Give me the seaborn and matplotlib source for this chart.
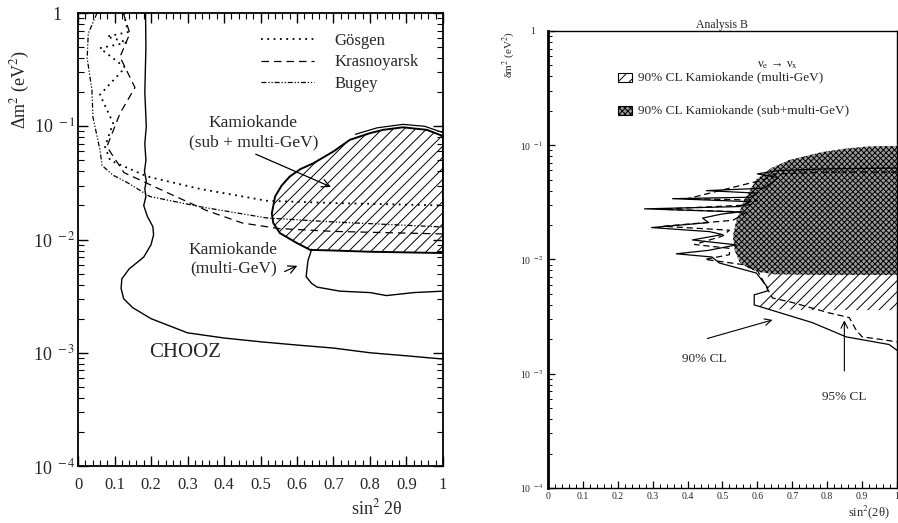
import matplotlib
matplotlib.use("Agg")
import matplotlib.pyplot as plt
import seaborn as sns
import numpy as np
from matplotlib.patches import Rectangle
from matplotlib.lines import Line2D
from matplotlib.ticker import FixedLocator, LogLocator, NullFormatter, MultipleLocator

# ---- left panel data: CHOOZ exclusion and other reactor limits ----
chooz_x = [0.185, 0.186, 0.183, 0.187, 0.183, 0.186, 0.182, 0.187, 0.183, 0.186, 0.180,
           0.190, 0.205, 0.207, 0.200, 0.180, 0.140, 0.120, 0.118, 0.125, 0.150, 0.200,
           0.300, 0.400, 0.500, 0.600, 0.700, 0.800, 0.900, 1.000]
chooz_y = [1.0, 0.5, 0.2, 0.1, 0.07, 0.05, 0.04, 0.033, 0.028, 0.024, 0.020,
           0.016, 0.013, 0.011, 0.009, 0.007, 0.0055, 0.0045, 0.0037, 0.0030, 0.0025, 0.0020,
           0.0015, 0.00135, 0.00125, 0.00117, 0.0011, 0.00100, 0.00094, 0.00088]

gosgen_x = [0.125, 0.137, 0.079, 0.135, 0.060, 0.129, 0.060, 0.096, 0.074, 0.088,
            0.190, 0.334, 0.517, 0.700, 1.000]
gosgen_y = [1.0, 0.68, 0.62, 0.55, 0.49, 0.33, 0.19, 0.107, 0.066, 0.050,
            0.036, 0.028, 0.022, 0.021, 0.020]

krasnoyarsk_x = [0.124, 0.142, 0.115, 0.156, 0.115, 0.079, 0.126, 0.244, 0.353, 0.450,
                 0.550, 0.700, 1.000]
krasnoyarsk_y = [1.0, 0.66, 0.41, 0.22, 0.13, 0.066, 0.039, 0.026, 0.018, 0.014,
                 0.0125, 0.0118, 0.0112]

bugey_x = [0.052, 0.028, 0.025, 0.038, 0.041, 0.060, 0.066, 0.096, 0.134, 0.197,
           0.334, 0.517, 0.700, 1.000]
bugey_y = [1.0, 0.66, 0.40, 0.21, 0.12, 0.062, 0.045, 0.037, 0.032, 0.024,
           0.0195, 0.0155, 0.0143, 0.0129]

kam_sub_x = [0.531, 0.540, 0.558, 0.580, 0.610, 0.644, 0.700, 0.745, 0.800, 0.836, 0.890,
             0.956, 1.000, 1.000, 0.800, 0.700, 0.636, 0.600, 0.553, 0.535, 0.531]
kam_sub_y = [0.017, 0.024, 0.030, 0.036, 0.042, 0.047, 0.060, 0.076, 0.087, 0.093, 0.098,
             0.093, 0.082, 0.0076, 0.0078, 0.0080, 0.0081, 0.0093, 0.0114, 0.0140, 0.017]

kam_multi_x = [0.640, 0.630, 0.625, 0.640, 0.655, 0.718, 0.800, 0.845, 0.920, 1.000]
kam_multi_y = [0.0082, 0.0065, 0.0047, 0.0041, 0.0038, 0.0035, 0.0034, 0.0032, 0.0034, 0.0035]

kam_multi_top_x = [0.760, 0.820, 0.890, 0.950, 1.000]
kam_multi_top_y = [0.085, 0.097, 0.104, 0.100, 0.088]

# ---- right panel data: analysis B ----
cross_x = [0.530, 0.540, 0.560, 0.597, 0.640, 0.691, 0.786, 0.850, 0.911, 0.960, 1.000,
           1.000, 0.800, 0.650, 0.600, 0.570, 0.549, 0.535, 0.530]
cross_y = [0.016, 0.022, 0.032, 0.050, 0.063, 0.074, 0.087, 0.093, 0.097, 0.098, 0.098,
           0.0073, 0.0073, 0.0074, 0.0078, 0.0085, 0.0095, 0.012, 0.016]

hatch_x = [0.630, 0.630, 0.600, 0.610, 0.750, 1.000, 1.000, 0.900, 0.700, 0.600, 0.580, 0.600]
hatch_y = [0.0075, 0.0055, 0.0045, 0.0037, 0.0036, 0.0036, 0.090, 0.085, 0.060, 0.030, 0.012, 0.008]

cl90_x = [1.00, 0.80, 0.66, 0.60, 0.66, 0.62, 0.454, 0.60, 0.58, 0.357, 0.58, 0.55, 0.277,
          0.55, 0.50, 0.443, 0.46, 0.297, 0.463, 0.50, 0.414, 0.54, 0.46, 0.368, 0.47, 0.491,
          0.597, 0.629, 0.629, 0.591, 0.591, 0.757, 0.854, 0.977, 1.00]
cl90_y = [0.063, 0.062, 0.060, 0.056, 0.052, 0.042, 0.040, 0.038, 0.035, 0.034, 0.032, 0.029, 0.0277,
          0.026, 0.025, 0.023, 0.021, 0.019, 0.0175, 0.0165, 0.0148, 0.0134, 0.012, 0.0112, 0.0105, 0.0093,
          0.0076, 0.0057, 0.0053, 0.0049, 0.0040, 0.0028, 0.0021, 0.0018, 0.0016]

cl95_x = [1.00, 0.80, 0.65, 0.62, 0.40, 0.60, 0.58, 0.32, 0.57, 0.53, 0.33, 0.52, 0.50, 0.42,
          0.52, 0.52, 0.45, 0.56, 0.60, 0.643, 0.70, 0.806, 0.863, 0.883, 0.90, 0.95, 1.00]
cl95_y = [0.058, 0.058, 0.056, 0.050, 0.034, 0.033, 0.030, 0.0275, 0.026, 0.022, 0.0195, 0.018, 0.016, 0.0135,
          0.0125, 0.011, 0.010, 0.0090, 0.0080, 0.0046, 0.0042, 0.0034, 0.0031, 0.0024, 0.0021, 0.0020, 0.0019]

xticks = [0, 0.1, 0.2, 0.3, 0.4, 0.5, 0.6, 0.7, 0.8, 0.9, 1]
xticklabels = ["0", "0.1", "0.2", "0.3", "0.4", "0.5", "0.6", "0.7", "0.8", "0.9", "1"]
yticks = [1e-4, 1e-3, 1e-2, 1e-1, 1]
yticklabels = ["10$^{\\;\\,-4}$", "10$^{\\;\\,-3}$", "10$^{\\;\\,-2}$", "10$^{\\;\\,-1}$", "1   "]

sns.set_theme(style="ticks")
plt.rcParams["font.family"] = ["Liberation Serif", "DejaVu Serif"]
plt.rcParams["mathtext.fontset"] = "stix"
plt.rcParams["hatch.linewidth"] = 0.7
plt.rcParams["hatch.color"] = "black"

fig = plt.figure(figsize=(8.98, 5.23), dpi=100)
ax = fig.add_axes([0.0869, 0.109, 0.4064, 0.866])
ax2 = fig.add_axes([0.610, 0.067, 0.389, 0.874])

gos_ls = (0, (1, 2.5))
kra_ls = (0, (6, 4))
bug_ls = (0, (4, 1.5, 1, 1.5, 1, 1.5))

# ---------------- left panel ----------------
ax.fill(kam_sub_x, kam_sub_y, facecolor="none", edgecolor="black", hatch="///", lw=1.4, zorder=2)
sns.lineplot(x=chooz_x, y=chooz_y, sort=False, estimator=None, color="black", lw=1.0, ax=ax)
sns.lineplot(x=gosgen_x, y=gosgen_y, sort=False, estimator=None, color="black", lw=1.3,
             linestyle=gos_ls, ax=ax)
sns.lineplot(x=krasnoyarsk_x, y=krasnoyarsk_y, sort=False, estimator=None, color="black", lw=0.9,
             linestyle=kra_ls, ax=ax)
sns.lineplot(x=bugey_x, y=bugey_y, sort=False, estimator=None, color="black", lw=0.9,
             linestyle=bug_ls, ax=ax)
sns.lineplot(x=kam_multi_x, y=kam_multi_y, sort=False, estimator=None, color="black", lw=1.0, ax=ax)
sns.lineplot(x=kam_multi_top_x, y=kam_multi_top_y, sort=False, estimator=None, color="black", lw=0.9, ax=ax)

ax.set_yscale("log")
ax.set_xlim(0, 1)
ax.set_ylim(1e-4, 1)
ax.set_xticks(xticks)
ax.set_xticklabels(xticklabels, fontsize=12)
ax.xaxis.set_minor_locator(MultipleLocator(0.02))
ax.yaxis.set_major_locator(FixedLocator(yticks))
ax.set_yticklabels(yticklabels, fontsize=13)
ax.yaxis.set_minor_locator(LogLocator(base=10, subs=np.arange(2, 10)))
ax.yaxis.set_minor_formatter(NullFormatter())
ax.tick_params(which="both", direction="in", top=True, right=True, color="black")
ax.tick_params(which="major", length=7, width=1.0)
ax.tick_params(which="minor", length=4, width=0.8)
ax.tick_params(axis="x", which="major", pad=8)
ax.tick_params(axis="y", which="major", pad=2)
for s in ax.spines.values():
    s.set_linewidth(1.3)
    s.set_color("black")
ax.set_ylabel("Δm$^2$ (eV$^2$)", fontsize=13)
ax.yaxis.set_label_coords(-0.125, 0.832)
ax.text(0.82, -0.093, "sin$^2$ 2θ", transform=ax.transAxes, ha="center", va="center", fontsize=13)

handles = [Line2D([], [], color="black", lw=1.3, linestyle=gos_ls),
           Line2D([], [], color="black", lw=0.9, linestyle=kra_ls),
           Line2D([], [], color="black", lw=0.9, linestyle=bug_ls)]
ax.legend(handles, ["Gösgen", "Krasnoyarsk", "Bugey"], loc="upper left", bbox_to_anchor=(0.46, 0.99),
          frameon=False, fontsize=12, handlelength=3.2, handletextpad=1.2, labelspacing=0.35)

ax.text(0.48, 0.088, "Kamiokande\n(sub + multi-GeV)", ha="center", va="center", fontsize=12.5,
        linespacing=1.3)
ax.annotate("", xy=(0.70, 0.0285), xytext=(0.48, 0.058),
            arrowprops=dict(arrowstyle="->", color="black", lw=0.9, mutation_scale=14))
ax.text(0.425, 0.0067, "Kamiokande\n(multi-GeV)", ha="center", va="center", fontsize=12.5,
        linespacing=1.2)
ax.annotate("", xy=(0.608, 0.0060), xytext=(0.559, 0.0051),
            arrowprops=dict(arrowstyle="->", color="black", lw=0.9, mutation_scale=14))
ax.text(0.293, 0.001, "CHOOZ", ha="center", va="center", fontsize=15)

# ---------------- right panel ----------------
ax2.fill(hatch_x, hatch_y, facecolor="white", edgecolor="black", lw=0, hatch="///", zorder=1)
ax2.fill(cross_x, cross_y, facecolor="#9a9a9a", edgecolor="black", lw=0, hatch="xxxxxx", zorder=2)
sns.lineplot(x=cl90_x, y=cl90_y, sort=False, estimator=None, color="black", lw=0.9, ax=ax2, zorder=3)
sns.lineplot(x=cl95_x, y=cl95_y, sort=False, estimator=None, color="black", lw=0.9,
             linestyle=(0, (5, 3)), ax=ax2, zorder=3)

ax2.set_yscale("log")
ax2.set_xlim(0, 1)
ax2.set_ylim(1e-4, 1)
ax2.set_xticks(xticks)
ax2.set_xticklabels(xticklabels, fontsize=7)
ax2.xaxis.set_minor_locator(MultipleLocator(0.02))
ax2.yaxis.set_major_locator(FixedLocator(yticks))
ax2.set_yticklabels(yticklabels, fontsize=7)
ax2.yaxis.set_minor_locator(LogLocator(base=10, subs=np.arange(2, 10)))
ax2.yaxis.set_minor_formatter(NullFormatter())
ax2.tick_params(which="both", direction="in", color="black", pad=3)
ax2.tick_params(which="major", length=5, width=0.9)
ax2.tick_params(which="minor", length=3, width=0.7)
for s in ax2.spines.values():
    s.set_linewidth(1.0)
    s.set_color("black")
ax2.spines["left"].set_linewidth(2.0)
ax2.set_title("Analysis B", fontsize=8.5, pad=2)
ax2.set_ylabel("δm$^2$ (eV$^2$)", fontsize=8, loc="top", labelpad=2)
ax2.set_xlabel("sin$^2$(2θ)", fontsize=9, loc="right", labelpad=0)
ax2.xaxis.set_label_coords(0.98, -0.035)

ax2.text(0.60, 0.925, "ν$_{\\rm e}$ → ν$_{\\rm x}$", transform=ax2.transAxes, ha="left", va="center",
         fontsize=9)
ax2.add_patch(Rectangle((0.20, 0.888), 0.04, 0.0197, transform=ax2.transAxes, facecolor="white",
                        edgecolor="black", hatch="///", lw=0.8))
ax2.text(0.257, 0.899, "90% CL Kamiokande (multi-GeV)", transform=ax2.transAxes, ha="left", va="center",
         fontsize=9.5)
ax2.add_patch(Rectangle((0.20, 0.816), 0.04, 0.0197, transform=ax2.transAxes, facecolor="#9a9a9a",
                        edgecolor="black", hatch="xxxxxx", lw=0.8))
ax2.text(0.257, 0.827, "90% CL Kamiokande (sub+multi-GeV)", transform=ax2.transAxes, ha="left", va="center",
         fontsize=9.5)

ax2.annotate("", xy=(0.651, 0.003), xytext=(0.449, 0.002),
             arrowprops=dict(arrowstyle="->", color="black", lw=0.8, mutation_scale=12))
ax2.text(0.449, 0.00135, "90% CL", ha="center", va="center", fontsize=9.5)
ax2.annotate("", xy=(0.849, 0.0031), xytext=(0.849, 0.001),
             arrowprops=dict(arrowstyle="->", color="black", lw=0.8, mutation_scale=12))
ax2.text(0.849, 0.00063, "95% CL", ha="center", va="center", fontsize=9.5)

fig.savefig("out.png", dpi=100)
